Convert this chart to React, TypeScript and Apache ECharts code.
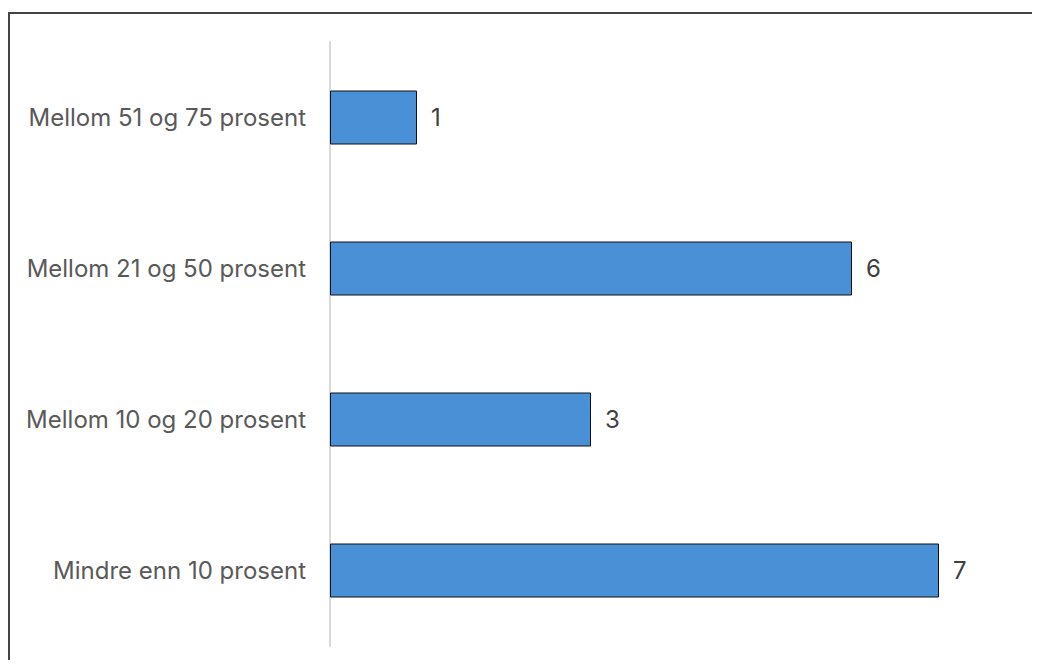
import React, { useEffect, useRef } from "react";
import * as echarts from "echarts";

const categories = [
  "Mindre enn 10 prosent",
  "Mellom 10 og 20 prosent",
  "Mellom 21 og 50 prosent",
  "Mellom 51 og 75 prosent",
];
const values = [7, 3, 6, 1];
const axisMax = 8;

export default function App() {
  const ref = useRef<HTMLDivElement>(null);
  useEffect(() => {
    if (!ref.current) return;
    const chart = echarts.init(ref.current, null, { renderer: "svg" });
    chart.setOption({
      animation: false,
      graphic: [
        { type: "line", shape: { x1: 0, y1: 5, x2: 1032, y2: 5 }, style: { stroke: "#444", lineWidth: 2 } },
        { type: "line", shape: { x1: 1, y1: 4, x2: 1, y2: 652 }, style: { stroke: "#444", lineWidth: 2 } },
      ],
      grid: { left: 322, right: 14, top: 34, bottom: 14, containLabel: false },
      xAxis: {
        type: "value",
        min: 0,
        max: axisMax,
        show: false,
      },
      yAxis: {
        type: "category",
        data: categories,
        axisLine: { show: true, lineStyle: { color: "#d9d9d9", width: 2 } },
        axisTick: { show: false },
        axisLabel: {
          color: "#595959",
          fontSize: 24,
          fontFamily: "Inter",
          margin: 24,
        },
      },
      series: [
        {
          type: "bar",
          data: values,
          barWidth: 54,
          itemStyle: { color: "#4a90d6", borderColor: "#111", borderWidth: 1 },
          label: {
            show: true,
            position: "right",
            distance: 14,
            color: "#404040",
            fontSize: 24,
            fontFamily: "Inter",
          },
        },
      ],
    });
    return () => chart.dispose();
  }, []);
  return <div ref={ref} style={{ width: 1032, height: 652 }} />;
}
